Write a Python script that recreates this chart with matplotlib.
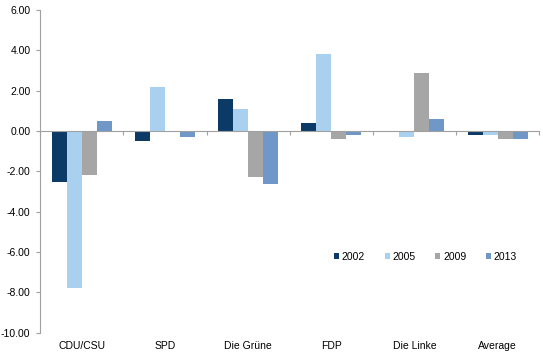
import matplotlib as mpl
mpl.use('Agg')
import matplotlib.pyplot as plt
import numpy as np

# Data
parties = ['CDU/CSU', 'SPD', 'Die Grüne', 'FDP', 'Die Linke', 'Average']
years = ['2002', '2005', '2009', '2013']
v2002 = [-2.5, -0.5, 1.6, 0.4, 0.0, -0.2]
v2005 = [-7.8, 2.2, 1.1, 3.8, -0.3, -0.2]
v2009 = [-2.2, 0.0, -2.3, -0.4, 2.9, -0.4]
v2013 = [0.5, -0.3, -2.6, -0.2, 0.6, -0.4]
colors = ['#0c3a66', '#a9d1ef', '#a6a6a6', '#6f98c8']

plt.rcParams['font.family'] = ['Liberation Sans', 'DejaVu Sans']

fig = plt.figure(figsize=(5.43, 3.56), dpi=100)
ax = fig.add_axes([0.074, 0.065, 0.919, 0.907])

x = np.arange(len(parties))
w = 0.18
for i, (vals, yr) in enumerate(zip([v2002, v2005, v2009, v2013], years)):
    ax.bar(x + (i - 1.5) * w, vals, width=w, color=colors[i], label=yr, zorder=2)

ax.set_xlim(-0.5, len(parties) - 0.5)
ax.set_ylim(-10, 6)
ax.set_yticks(np.arange(-10, 7, 2))
ax.set_yticklabels(['%.2f' % t for t in np.arange(-10, 7, 2)])

gray = '#a0a0a0'
for s in ['top', 'right']:
    ax.spines[s].set_visible(False)
ax.spines['left'].set_color(gray)
ax.spines['bottom'].set_color(gray)
ax.spines['bottom'].set_position(('data', 0))
ax.tick_params(axis='y', colors=gray, length=3, labelsize=7.5, labelcolor='black', pad=4)
ax.set_xticks(np.arange(len(parties) + 1) - 0.5)
ax.tick_params(axis='x', colors=gray, length=3, direction='out', labelbottom=False)

sec = ax.secondary_xaxis('bottom')
sec.set_xticks(x)
sec.set_xticklabels(parties)
sec.tick_params(length=0, labelsize=7.5, pad=6)
sec.spines['bottom'].set_visible(False)

ax.legend(loc='center', bbox_to_anchor=(0.772, 0.235), ncol=4, frameon=False,
          fontsize=7.5, handlelength=0.5, handleheight=0.5, handletextpad=0.25,
          columnspacing=1.9)

fig.savefig('out.png', dpi=100)
